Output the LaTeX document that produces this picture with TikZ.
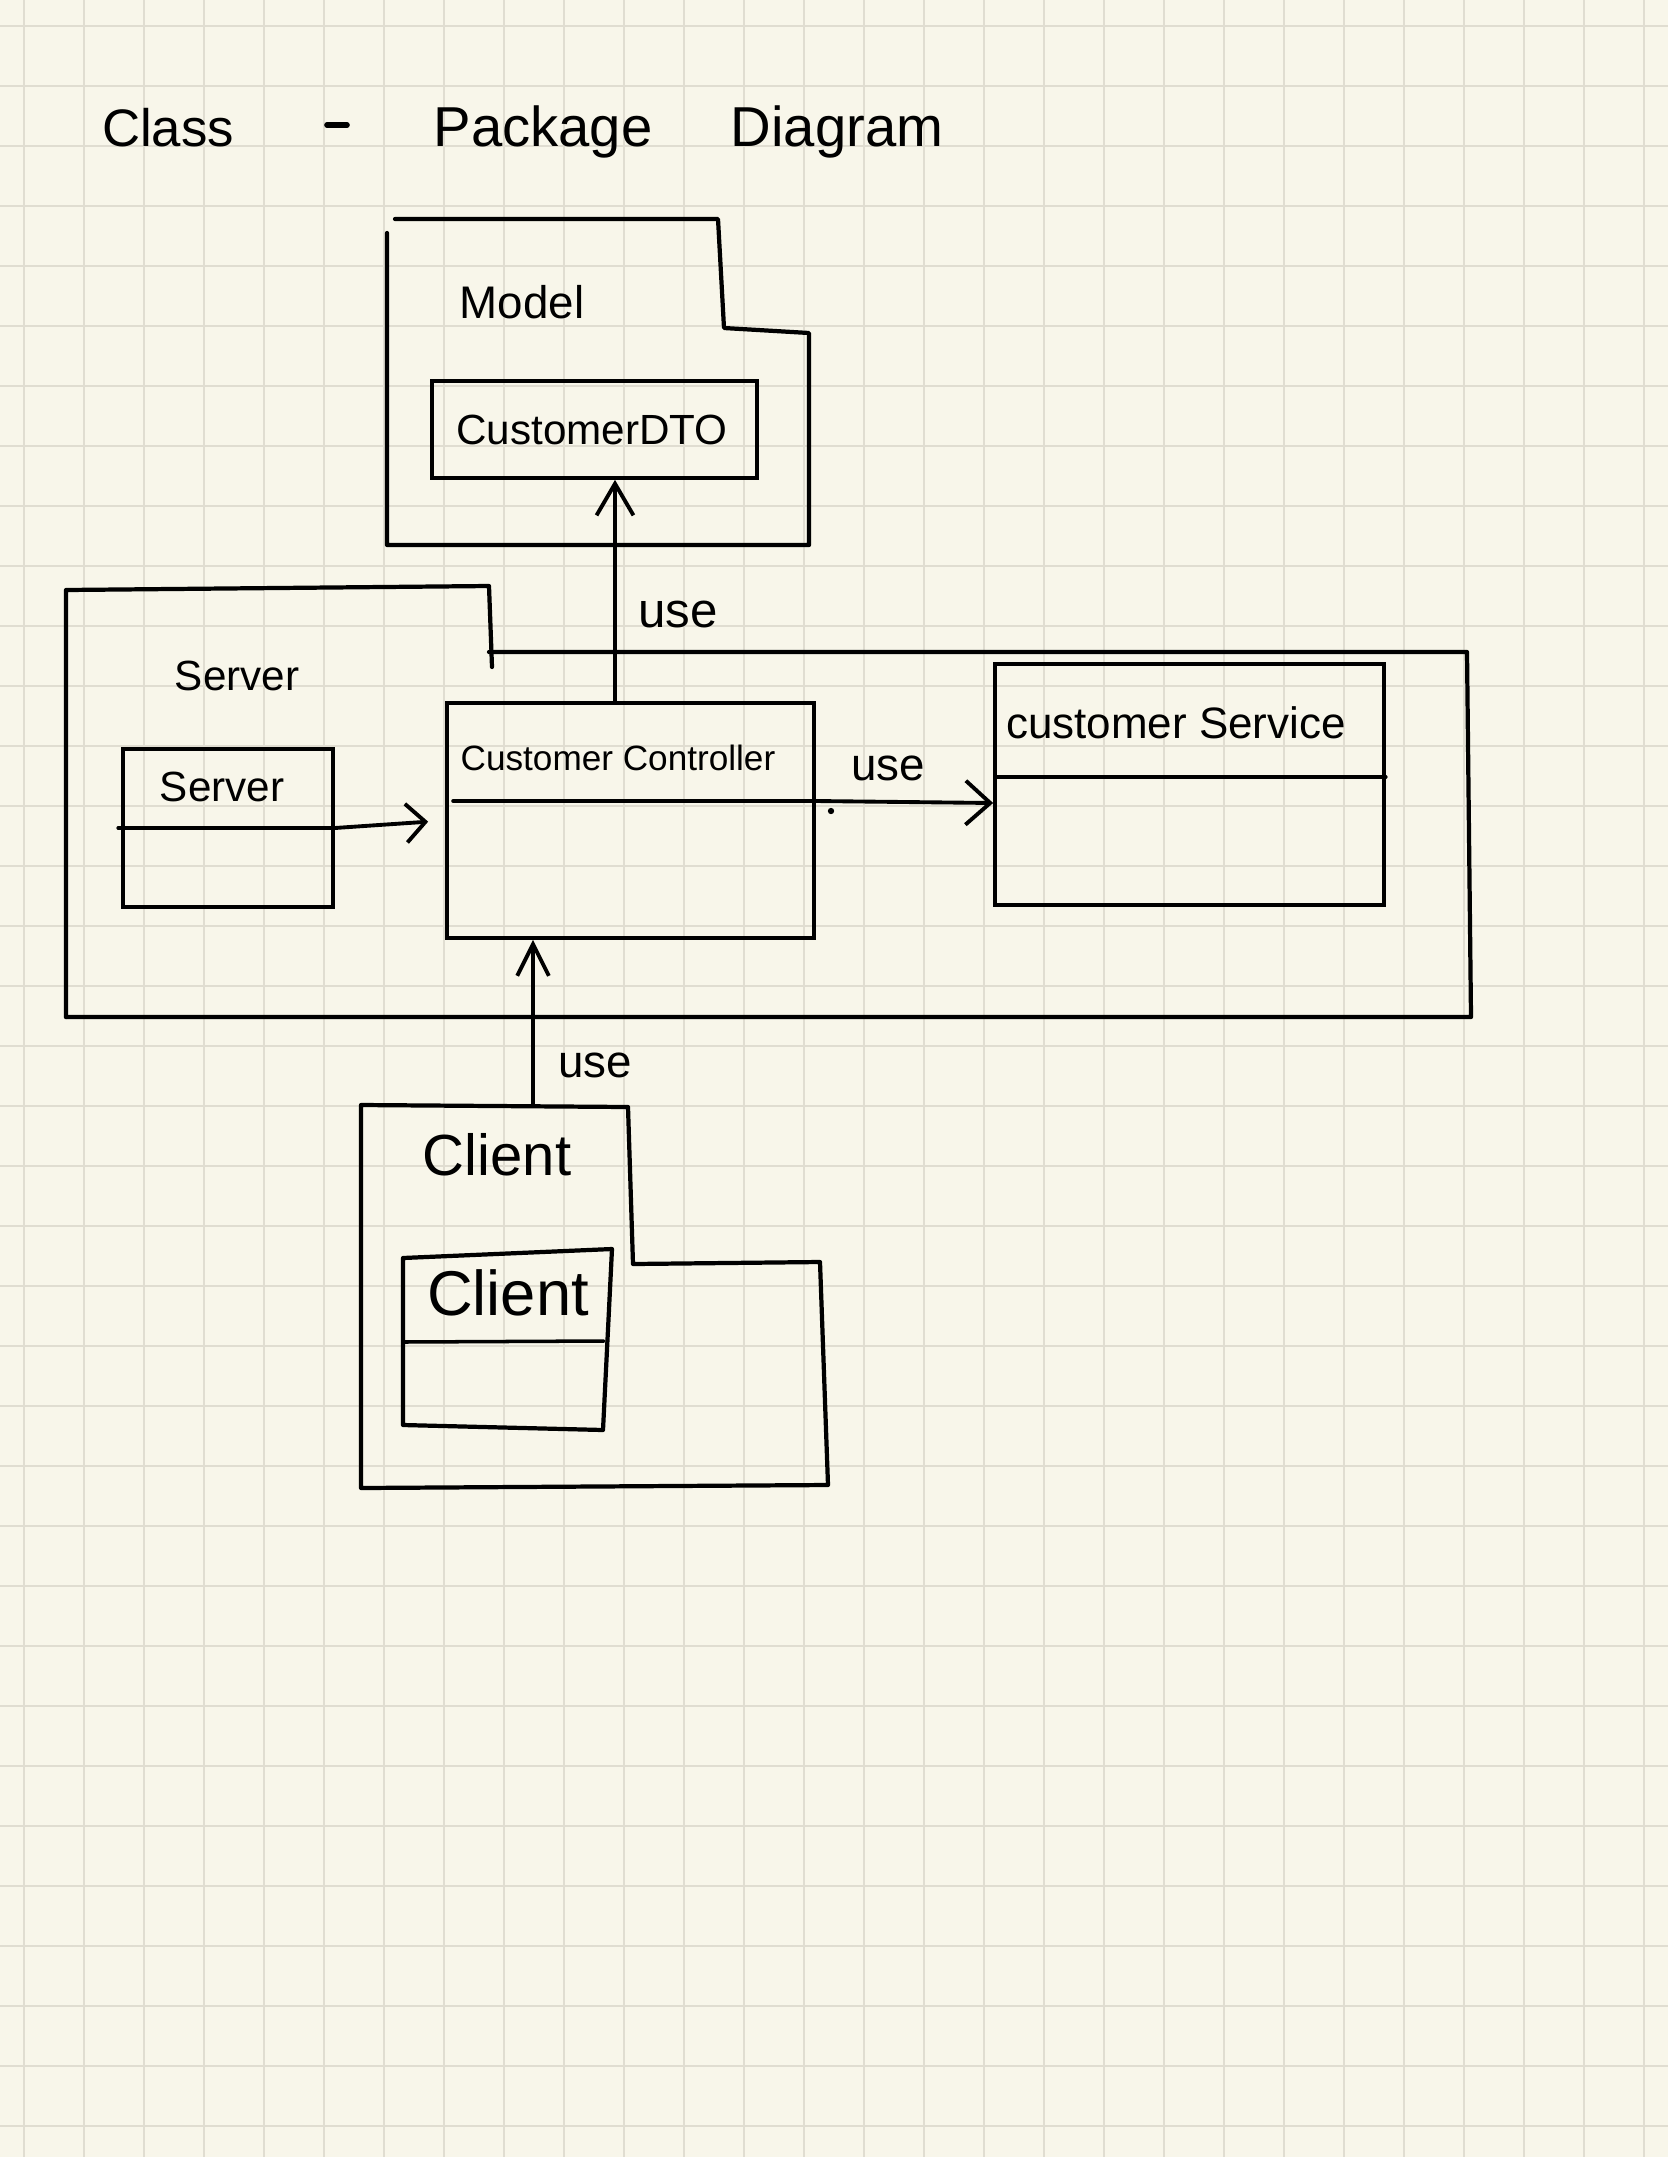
\documentclass[tikz,border=0pt]{standalone}
\usepackage{fontspec}
\setmainfont{Liberation Sans}
\usetikzlibrary{arrows.meta,fit,calc}
\definecolor{paper}{HTML}{F8F6EA}
\definecolor{gridc}{HTML}{E0DDD1}
\begin{document}
\begin{tikzpicture}[x=0.01cm, y=-0.01cm,
  pkg/.style={line width=1.2pt, line join=round, line cap=round},
  cls/.style={draw, line width=1.05pt, inner sep=0pt},
  divl/.style={line width=1pt, line cap=round},
  usearrow/.style={line width=1.1pt, line cap=round},
  lbl/.style={inner sep=0pt, anchor=base},
  fs/.style={font=\fontsize{#1}{#1}\selectfont}]
\fill[paper] (0,0) rectangle (1668,2157);
\useasboundingbox (0,0) rectangle (1668,2157);
\foreach \i in {0,...,27} \draw[gridc, line width=0.6pt] ({24+60*\i},0) -- ({24+60*\i},2157);
\foreach \j in {0,...,35} \draw[gridc, line width=0.6pt] (0,{26+60*\j}) -- (1668,{26+60*\j});

% title
\node[lbl, fs=15pt] (t1) at (168,146) {Class};
\draw[line width=1.6pt, line cap=round] (327,125) -- (347,125);
\node[lbl, fs=16pt] (t3) at (543,146) {Package};
\node[lbl, fs=16pt] (t4) at (837,146) {Diagram};

% Model package
\draw[pkg] (387,233) -- (387,545) -- (809,545) -- (809,333) -- (724,328) -- (718,219) -- (395,219);
\node[lbl, fs=13pt] (modellbl) at (522,318) {Model};
\node[cls, fit={(432,381) (757,478)}] (dto) {};
\node[lbl, fs=12pt] (dtolbl) at (592,444) {CustomerDTO};

% Server package
\draw[pkg] (66,1017) -- (66,590) -- (489,586) -- (492,667);
\draw[pkg] (489,652) -- (1467,652) -- (1471,1017) -- (66,1017);
\node[lbl, fs=12pt] (srvpkglbl) at (237,690) {Server};

% Server class
\node[cls, fit={(123,749) (333,907)}] (srv) {};
\node[lbl, fs=12pt] (srvlbl) at (222,801) {Server};
\draw[divl] ([xshift=-0.03cm]srv.west) -- (srv.east);

% Customer Controller
\node[cls, fit={(447,703) (814,938)}] (cc) {};
\node[lbl, fs=10pt] (cclbl) at (618,770) {Customer Controller};
\coordinate (ccdiv) at (453,801);
\draw[divl] (ccdiv) -- (cc.east |- ccdiv);

% Customer Service
\node[cls, fit={(995,664) (1384,905)}] (cs) {};
\node[lbl, fs=12.5pt] (cslbl) at (1176,738) {customer Service};
\coordinate (csdiv) at (997,777);
\draw[divl] (csdiv) -- (cs.east |- csdiv);

% Client package
\draw[pkg] (361,1105) -- (628,1107) -- (633,1264) -- (820,1262) -- (828,1485) -- (361,1488) -- cycle;
\node[lbl, fs=16.5pt] (clpkglbl) at (497,1175) {Client};
% Client class (hand-drawn, slightly skewed)
\draw[pkg] (403,1258) -- (612,1249) -- (603,1430) -- (403,1425) -- cycle;
\draw[divl] (403,1342) -- (604,1341);
\node[lbl, fs=18pt] (cllbl) at (508,1315) {Client};

% connectors
\coordinate (ccup) at (615,703);
\draw[usearrow, -{Straight Barb[length=9pt, width=10.5pt, line width=1.1pt]}] (ccup) -- (ccup |- dto.south);
\node[fs=14pt, inner sep=0pt] (use1) at (678,614) {use};

\draw[usearrow, shorten >=0.17cm, -{Straight Barb[length=5.5pt, width=11pt, line width=1.1pt]}] (srv.east) -- (cc.west);

\draw[usearrow, -{Straight Barb[length=7pt, width=12.5pt, line width=1.1pt]}] (cc.east |- ccdiv) -- ([yshift=-0.02cm]cs.west |- ccdiv);
\node[fs=13pt, inner sep=0pt] (use2) at (888,768) {use};
\fill (831,811) circle (0.9pt);

\coordinate (cltop) at (533,1105);
\draw[usearrow, -{Straight Barb[length=9pt, width=9pt, line width=1.1pt]}] (cltop) -- (cltop |- cc.south);
\node[fs=13pt, inner sep=0pt] (use3) at (595,1065) {use};
\end{tikzpicture}
\end{document}
